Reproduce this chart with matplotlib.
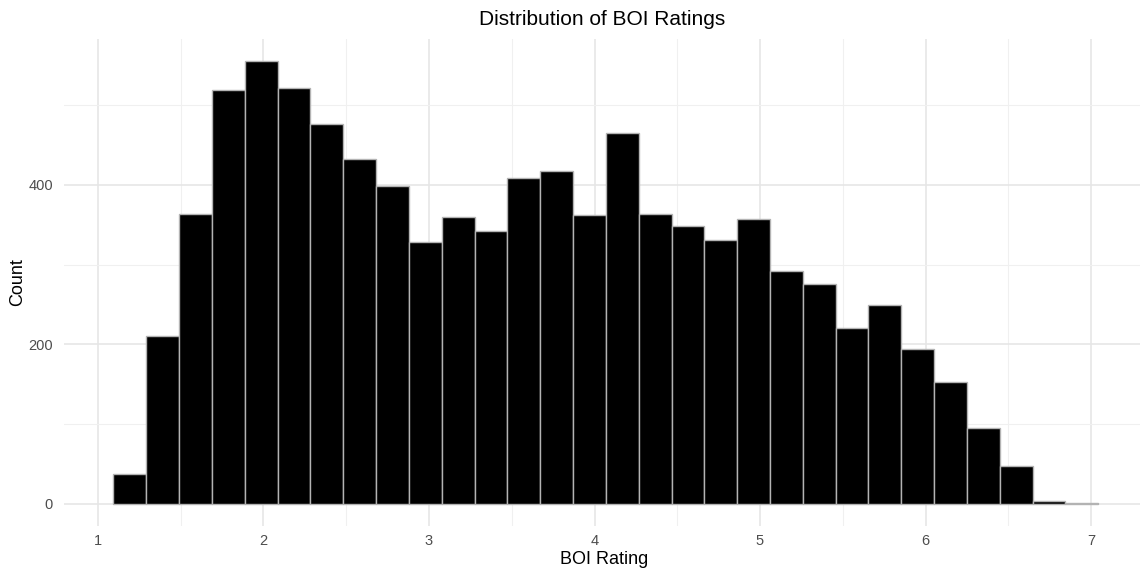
import matplotlib.pyplot as plt
import numpy as np

# bin edges of the histogram (30 bins) and the count in each bin
bin_lo = 1.093
bin_hi = 7.044
counts = [38, 210, 364, 519, 555, 521, 477, 433, 399, 329,
          360, 342, 409, 417, 362, 465, 364, 349, 331, 357,
          292, 276, 220, 249, 194, 153, 95, 48, 4, 1]
x_ticks = [1, 2, 3, 4, 5, 6, 7]
y_ticks = [0, 200, 400]

plt.rcParams['font.family'] = ['Liberation Sans', 'DejaVu Sans']

edges = np.linspace(bin_lo, bin_hi, len(counts) + 1)
centers = (edges[:-1] + edges[1:]) / 2

fig = plt.figure(figsize=(11.4, 5.73), dpi=100)
ax = fig.add_axes([64 / 1140, 47 / 573, 1 - 64 / 1140, 487 / 573])

ax.hist(centers, bins=edges, weights=counts, color='black',
        edgecolor='#b3b3b3', linewidth=1.0, zorder=3)

ax.set_xlim(0.7946, 7.296)
ax.set_ylim(-27.75, 583)

ax.set_xticks(x_ticks)
ax.set_xticks(np.arange(1.5, 7, 1), minor=True)
ax.set_yticks(y_ticks)
ax.set_yticks([100, 300, 500], minor=True)
ax.grid(which='major', color='#e6e6e6', linewidth=1.2, zorder=0)
ax.grid(which='minor', color='#f0f0f0', linewidth=0.8, zorder=0)
ax.tick_params(which='both', length=0, colors='#4d4d4d', labelsize=10.5)
ax.tick_params(axis='x', pad=6)
ax.tick_params(axis='y', pad=8)
for s in ax.spines.values():
    s.set_visible(False)

ax.set_xlabel('BOI Rating', fontsize=13)
ax.set_ylabel('Count', fontsize=13)
# put axis titles where the reference has them (pixel centres)
ax.xaxis.set_label_coords(604 / 1140 * 1140 / (1140 - 64) - 64 / (1140 - 64), -(560 - 526) / 487,
                          transform=ax.transAxes)
ax.yaxis.set_label_coords((18 - 64) / (1140 - 64), (526 - 282) / 487,
                          transform=ax.transAxes)
ax.xaxis.label.set_va('center')
ax.yaxis.label.set_va('center')
ax.set_title('Distribution of BOI Ratings', fontsize=15, pad=10)

fig.savefig('out.png', dpi=100)
